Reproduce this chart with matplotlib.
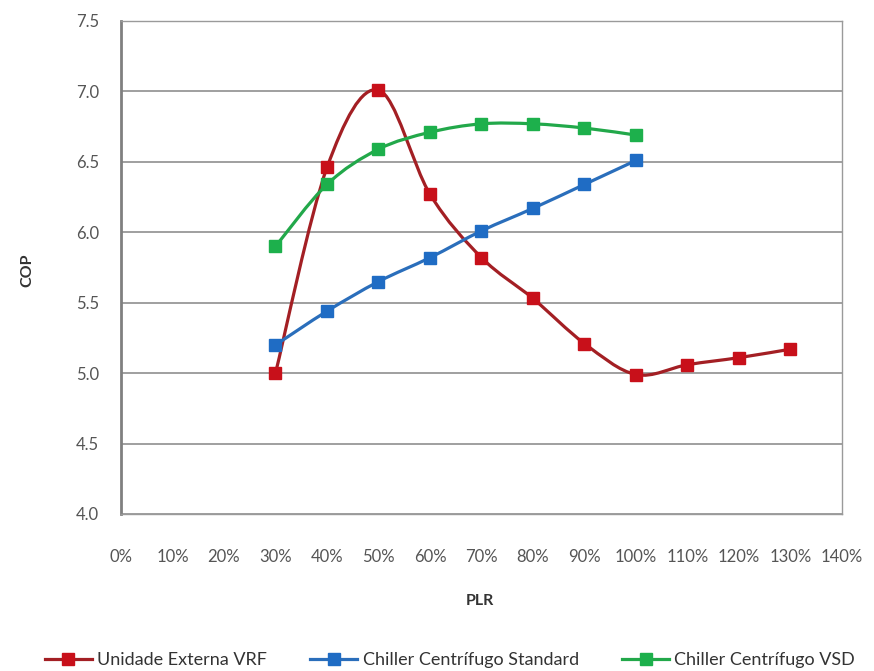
"""COP vs PLR comparison chart (VRF vs centrifugal chillers)."""

import numpy as np
import matplotlib
matplotlib.use("Agg")
import matplotlib.pyplot as plt
from matplotlib.path import Path
from matplotlib.patches import PathPatch
from matplotlib.lines import Line2D

plt.rcParams['font.family'] = ['Lato', 'DejaVu Sans']

# data
plr_labels = ['0%', '10%', '20%', '30%', '40%', '50%', '60%', '70%',
              '80%', '90%', '100%', '110%', '120%', '130%', '140%']
vrf_plr = [30, 40, 50, 60, 70, 80, 90, 100, 110, 120, 130]
vrf_cop = [5.00, 6.46, 7.01, 6.27, 5.82, 5.53, 5.21, 4.99, 5.06, 5.11, 5.17]
std_plr = [30, 40, 50, 60, 70, 80, 90, 100]
std_cop = [5.20, 5.44, 5.65, 5.82, 6.01, 6.17, 6.34, 6.51]
vsd_plr = [30, 40, 50, 60, 70, 80, 90, 100]
vsd_cop = [5.90, 6.34, 6.59, 6.71, 6.77, 6.77, 6.74, 6.69]

series = [
    ('Unidade Externa VRF', vrf_plr, vrf_cop, '#A31F24', '#C8101A'),
    ('Chiller Centrífugo Standard', std_plr, std_cop, '#2A6EBB', '#1F6CC4'),
    ('Chiller Centrífugo VSD', vsd_plr, vsd_cop, '#22A84A', '#1DB04C'),
]


def smooth_path(x, y):
    """Excel-style smoothed line as cubic Bezier segments."""
    pts = np.column_stack([x, y]).astype(float)
    n = len(pts)
    verts = [pts[0]]
    codes = [Path.MOVETO]
    for i in range(n - 1):
        p0 = pts[i - 1] if i > 0 else pts[i]
        p1, p2 = pts[i], pts[i + 1]
        p3 = pts[i + 2] if i + 2 < n else pts[i + 1]
        c1 = p1 + (p2 - p0) / 6.0
        c2 = p2 - (p3 - p1) / 6.0
        verts += [c1, c2, p2]
        codes += [Path.CURVE4] * 3
    return Path(verts, codes)


fig = plt.figure(figsize=(8.74, 6.71), dpi=100)
ax = fig.add_axes([121 / 874, 1 - 514 / 671, 721 / 874, 493 / 671])

for name, xs, ys, lc, mc in series:
    xi = [v / 10 for v in xs]
    ax.add_patch(PathPatch(smooth_path(xi, ys), facecolor='none',
                           edgecolor=lc, lw=2.3, zorder=3))
    ax.plot(xi, ys, ls='none', marker='s', ms=8.5, color=mc,
            mec=mc, zorder=4)

ax.set_xlim(0, 14)
ax.set_ylim(4.0, 7.5)
ax.set_xticks(range(len(plr_labels)))
ax.set_xticklabels(plr_labels)
ax.set_yticks(np.arange(4.0, 7.51, 0.5))
ax.set_yticklabels([f'{v:.1f}' for v in np.arange(4.0, 7.51, 0.5)])
ax.tick_params(axis='both', length=0, labelsize=12, colors='#555555')
ax.tick_params(axis='x', pad=25)
ax.tick_params(axis='y', pad=16)
ax.grid(axis='y', color='#8f8f8f', lw=1.2)
ax.set_axisbelow(True)

for s in ['top', 'right', 'bottom']:
    ax.spines[s].set_color('#9a9a9a')
    ax.spines[s].set_linewidth(1.0)
ax.spines['left'].set_color('#808080')
ax.spines['left'].set_linewidth(2.0)

fig.text(27 / 874, 1 - 270 / 671, 'COP', rotation=90, ha='center',
         va='center', fontsize=11.5, fontweight='bold', color='#333333')
fig.text(480 / 874, 1 - 601 / 671, 'PLR', ha='center', va='center',
         fontsize=11.5, fontweight='bold', color='#333333')

handles = [Line2D([0], [0], color=lc, lw=2.3, marker='s', ms=8.5,
                  mfc=mc, mec=mc) for _, _, _, lc, mc in series]
fig.legend(handles, [s[0] for s in series], loc='center',
           bbox_to_anchor=(450 / 874, 1 - 660 / 671), ncol=3, frameon=False,
           fontsize=13, handlelength=2.6, handletextpad=0.3,
           columnspacing=2.4, labelcolor='#333333')

plt.savefig('out.png', dpi=100)
plt.close()
